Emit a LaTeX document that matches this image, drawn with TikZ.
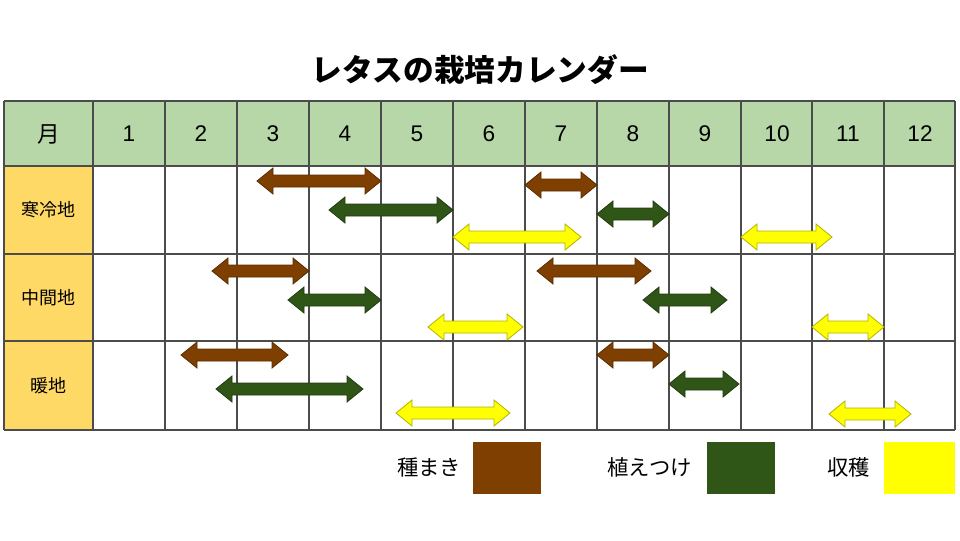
\documentclass[tikz,border=0pt]{standalone}
\usepackage{fontspec}
\setmainfont{Liberation Sans}
\newfontfamily\jpfont{Noto Sans CJK JP}
\definecolor{hdrgreen}{HTML}{B7D7A8}
\definecolor{lblyellow}{HTML}{FFD966}
\definecolor{sowbrown}{HTML}{7F3F00}
\definecolor{plantgreen}{HTML}{2F5517}
\definecolor{harvyellow}{HTML}{FFFF00}
\tikzset{
  cell/.style={draw=black!70, line width=0.8pt},
  hdr/.style={font=\fontsize{17}{17}\selectfont},
  lbl/.style={font=\jpfont\fontsize{13.5}{14}\selectfont},
}
% block arrow: color, x1, x2, y
\newcommand\calarrow[4]{%
  \filldraw[fill=#1, draw=#1!70!black, line width=0.6pt]
    (#2,#4) -- (#2+16,#4-13) -- (#2+16,#4-6) -- (#3-16,#4-6) -- (#3-16,#4-13)
    -- (#3,#4) -- (#3-16,#4+13) -- (#3-16,#4+6) -- (#2+16,#4+6) -- (#2+16,#4+13) -- cycle;}
\begin{document}
\begin{tikzpicture}[x=0.75pt,y=-0.75pt]
  \useasboundingbox (0,0) rectangle (960,540);
  \node[font=\jpfont\bfseries\fontsize{23}{24}\selectfont] (title) at (480,70) {レタスの栽培カレンダー};
  % header and table
  \fill[hdrgreen] (4,101) rectangle (955,166);
  \fill[lblyellow] (4,166) rectangle (93,430);
  \foreach \x in {4,93,165,237,309,381,453,525,597,669,741,812,884,955}
    \draw[cell] (\x,101) -- (\x,430);
  \foreach \y in {101,166,254,341,430}
    \draw[cell] (4,\y) -- (955,\y);
  \node[hdr,font=\jpfont\fontsize{17}{17}\selectfont] (m0) at (48.5,134) {月};
  \foreach \m/\x in {1/129,2/201,3/273,4/345,5/417,6/489,7/561,8/633,9/705,10/777,11/848,12/920}
    \node[hdr] (m\m) at (\x,134) {\m};
  \node[lbl] (cold) at (48.5,210) {寒冷地};
  \node[lbl] (mid) at (48.5,298) {中間地};
  \node[lbl] (warm) at (48.5,386) {暖地};
  % cold
  \calarrow{sowbrown}{257}{381}{181}
  \calarrow{plantgreen}{329}{453}{210}
  \calarrow{harvyellow}{453}{581}{237}
  \calarrow{sowbrown}{525}{597}{185}
  \calarrow{plantgreen}{597}{669}{214}
  \calarrow{harvyellow}{741}{832}{237}
  % mid
  \calarrow{sowbrown}{212}{309}{271}
  \calarrow{plantgreen}{288}{381}{300}
  \calarrow{harvyellow}{428}{523}{327}
  \calarrow{sowbrown}{537}{651}{271}
  \calarrow{plantgreen}{643}{727}{300}
  \calarrow{harvyellow}{812}{884}{327}
  % warm
  \calarrow{sowbrown}{181}{288}{355}
  \calarrow{plantgreen}{216}{363}{389}
  \calarrow{harvyellow}{396}{510}{413}
  \calarrow{sowbrown}{597}{669}{355}
  \calarrow{plantgreen}{669}{739}{384}
  \calarrow{harvyellow}{829}{911}{414}
  % legend
  \node[lbl,font=\jpfont\fontsize{16}{16}\selectfont,anchor=east] (sowtxt) at (466,467) {種まき};
  \fill[sowbrown] (473,442) rectangle (541,494);
  \node[lbl,font=\jpfont\fontsize{16}{16}\selectfont,anchor=east] (planttxt) at (697,467) {植えつけ};
  \fill[plantgreen] (707,442) rectangle (775,494);
  \node[lbl,font=\jpfont\fontsize{16}{16}\selectfont,anchor=east] (harvtxt) at (875,467) {収穫};
  \fill[harvyellow] (884,442) rectangle (955,494);
\end{tikzpicture}
\end{document}
